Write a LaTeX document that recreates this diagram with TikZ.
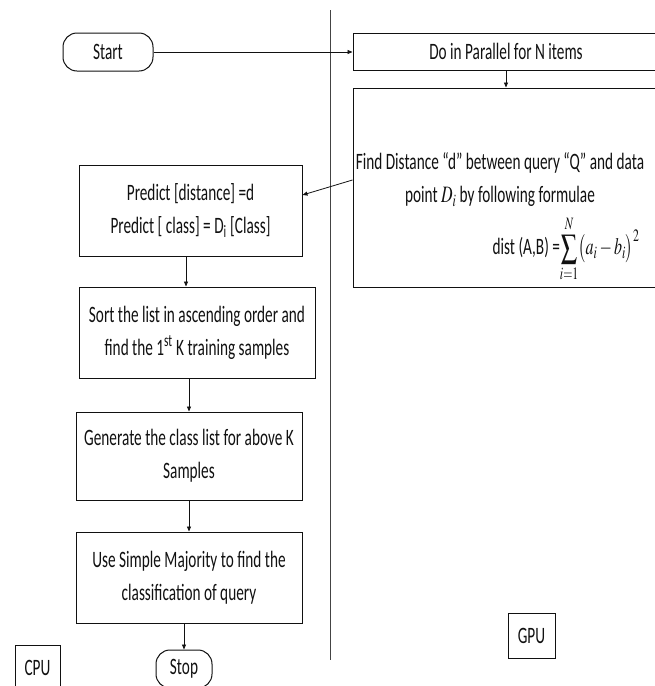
\documentclass[tikz,border=0pt]{standalone}
\usepackage{mathptmx}
\usepackage{fontspec}
\setmainfont{Carlito}[FakeStretch=0.65]
\usepackage{graphicx}
\usetikzlibrary{arrows.meta,positioning}
\definecolor{FCInk}{HTML}{111111}
\definecolor{FCRule}{HTML}{444444}
\newcommand{\narrow}[1]{\scalebox{0.68}[1]{#1}}

\begin{document}
\begin{tikzpicture}[x=1pt,y=-1pt,
  every node/.style={font=\fontsize{23.5}{33}\selectfont,text=FCInk},
  flowbox/.style={draw=FCInk,line width=1pt,inner sep=0pt,align=center},
  termbox/.style={draw=FCInk,line width=1pt,rounded corners=14pt,inner sep=0pt},
  tagbox/.style={draw=FCInk,line width=1pt,inner sep=0pt},
  flowarrow/.style={draw=FCInk,line width=0.8pt,-{Triangle[length=5pt,width=4pt]}}]
\useasboundingbox (0,0) rectangle (655,686);
% lane divider CPU | GPU
\draw[FCRule,line width=0.8pt] (330,10) -- (330,660);
% CPU side
\node[termbox,minimum width=90pt,minimum height=38pt] (start) at (108,52) {Start};
\node[flowbox,minimum width=223pt,minimum height=91pt] (predict) at (190.5,210.5)
  {Predict [distance] =d\\Predict [ class] = D\textsubscript{i} [Class]};
\node[flowbox,minimum width=236pt,minimum height=91pt] (sort) at (197,332.5)
  {Sort the list in ascending order and\\find the 1\textsuperscript{st} K training samples};
\node[flowbox,minimum width=226pt,minimum height=88pt] (gen) at (189,456)
  {Generate the class list for above K\\Samples};
\node[flowbox,minimum width=226pt,minimum height=91pt] (use) at (189,577.5)
  {Use Simple Majority to find the\\classification of query};
\node[termbox,minimum width=56pt,minimum height=38pt] (stop) at (184,669) {Stop};
\node[tagbox,minimum width=45pt,minimum height=45pt] (cpu) at (37.5,667.5) {CPU};
% GPU side
\node[flowbox,minimum width=306pt,minimum height=37pt] (par) at (506,51.5)
  {Do in Parallel for N items};
\node[flowbox,minimum width=306pt,minimum height=199pt] (find) at (506,187.5) {};
\node[align=center,inner sep=0pt] (findtxt) at (500,180)
  {Find Distance “d” between query “Q” and data\\point \narrow{$D_i$}\ by following formulae};
\node[inner sep=0pt] (dist) at (566,249)
  {dist (A,B) =\narrow{$\displaystyle\sum_{i=1}^{N}\bigl(a_i-b_i\bigr)^2$}};
\node[tagbox,minimum width=47pt,minimum height=45pt] (gpu) at (531.5,635.5) {GPU};
% connectors
\draw[flowarrow] (start.east) -- (start.east -| par.west);
\draw[flowarrow] (par.south) -- (find.north);
\draw[flowarrow] ([yshift=7.5pt]find.west) -- ([yshift=15.5pt]predict.east);
\draw[flowarrow] ([xshift=-4.5pt]predict.south) -- ([xshift=-4.5pt]predict.south |- sort.north);
\draw[flowarrow] (gen.north |- sort.south) -- (gen.north);
\draw[flowarrow] (gen.south) -- (use.north);
\draw[flowarrow] (stop.north |- use.south) -- (stop.north);
\end{tikzpicture}
\end{document}
